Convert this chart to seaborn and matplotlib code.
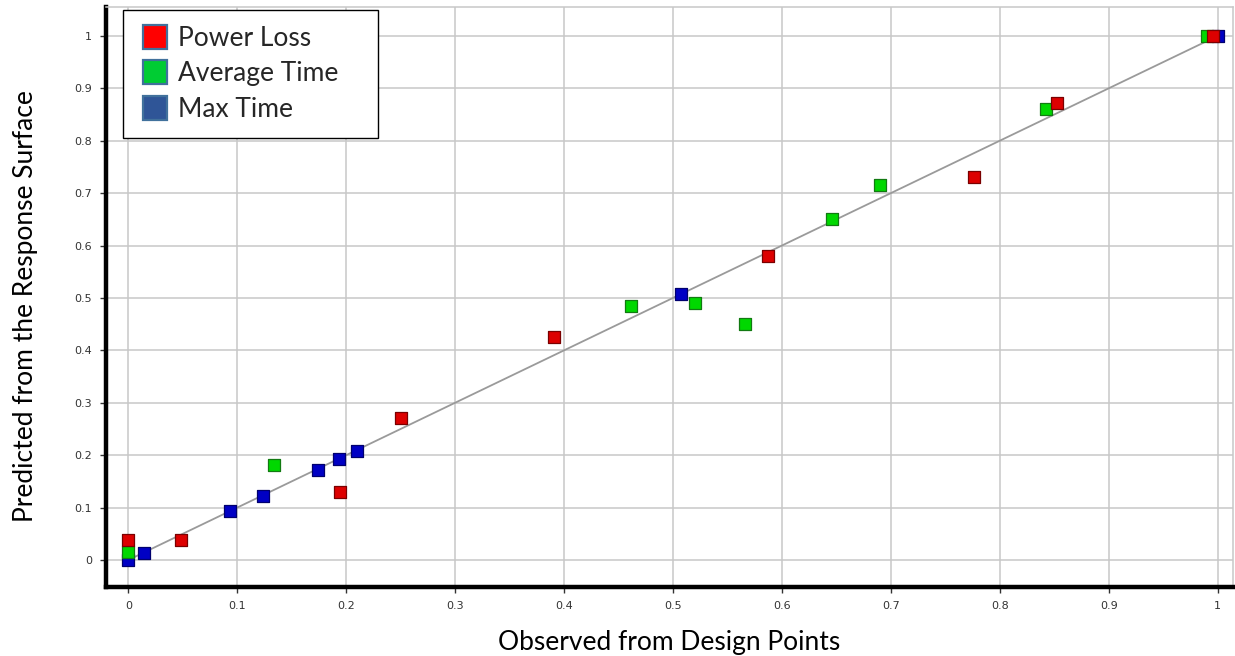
import matplotlib
matplotlib.use("Agg")
import matplotlib.pyplot as plt
from matplotlib.lines import Line2D
import numpy as np
import pandas as pd
import seaborn as sns

# Normalised observed vs. predicted values for each response
power_loss_obs = [0.0, 0.048, 0.194, 0.250, 0.391, 0.587, 0.776, 0.852, 0.996]
power_loss_pred = [0.039, 0.038, 0.130, 0.270, 0.426, 0.580, 0.731, 0.871, 1.0]

avg_time_obs = [0.0, 0.1335, 0.461, 0.520, 0.566, 0.6455, 0.690, 0.842, 0.990]
avg_time_pred = [0.016, 0.181, 0.485, 0.490, 0.450, 0.650, 0.716, 0.860, 1.0]

max_time_obs = [0.0, 0.0147, 0.093, 0.124, 0.174, 0.193, 0.2096, 0.507, 1.0]
max_time_pred = [0.0, 0.014, 0.0935, 0.122, 0.172, 0.192, 0.2086, 0.507, 1.0]

series_names = ["Max Time", "Average Time", "Power Loss"]
legend_order = ["Power Loss", "Average Time", "Max Time"]
ticks = [0, 0.1, 0.2, 0.3, 0.4, 0.5, 0.6, 0.7, 0.8, 0.9, 1]
tick_labels = ["0", "0.1", "0.2", "0.3", "0.4", "0.5", "0.6", "0.7", "0.8", "0.9", "1"]

df = pd.concat([
    pd.DataFrame({"observed": max_time_obs, "predicted": max_time_pred, "response": "Max Time"}),
    pd.DataFrame({"observed": avg_time_obs, "predicted": avg_time_pred, "response": "Average Time"}),
    pd.DataFrame({"observed": power_loss_obs, "predicted": power_loss_pred, "response": "Power Loss"}),
], ignore_index=True)

face = {"Power Loss": "#dd0000", "Average Time": "#00d800", "Max Time": "#0000c4"}
edge = {"Power Loss": "#7a0000", "Average Time": "#127a12", "Max Time": "#00006e"}

sns.set_theme(style="white")
plt.rcParams["font.family"] = ["DejaVu Sans"]

fig = plt.figure(figsize=(12.35, 6.56), dpi=100)
ax = fig.add_axes([0.0858, 0.1052, 0.9126, 0.8841])

grid_col = "#c8c8c8"
ax.set_xlim(-0.0205, 1.014)
ax.set_ylim(-0.0515, 1.055)
ax.set_xticks(ticks)
ax.set_xticklabels(tick_labels)
ax.set_yticks(ticks)
ax.set_yticklabels(tick_labels)
ax.grid(True, color=grid_col, linewidth=1.1)
ax.set_axisbelow(True)

# identity reference line
ax.plot([0, 1], [0, 1], color="#9a9a9a", linewidth=1.3, zorder=2)

for name in series_names:
    sub = df[df["response"] == name]
    sns.scatterplot(data=sub, x="observed", y="predicted", ax=ax, marker="s",
                    s=78, color=face[name], edgecolor=edge[name],
                    linewidth=0.9, zorder=3, legend=False)

for side in ["top", "right"]:
    ax.spines[side].set_color(grid_col)
    ax.spines[side].set_linewidth(1.1)
for side in ["left", "bottom"]:
    ax.spines[side].set_color("black")
    ax.spines[side].set_linewidth(3.2)

ax.tick_params(axis="both", which="major", length=4, width=1, color="#333333",
               labelsize=8, labelcolor="#333333", direction="out", pad=6,
               bottom=True, left=True)

label_font = ["Lato", "DejaVu Sans"]
ax.set_xlabel("")
ax.set_ylabel("")
fig.text(0.5421, 0.0095, "Observed from Design Points", ha="center", va="baseline",
         fontsize=19, family=label_font, color="black")
fig.text(0.0205, 0.533, "Predicted from the Response Surface", ha="center", va="center",
         rotation=90, fontsize=19, family=label_font, color="black")

legend_face = {"Power Loss": "#ff0000", "Average Time": "#00cc33", "Max Time": "#2f5597"}
handles = [Line2D([0], [0], marker="s", linestyle="none", markersize=17.5,
                  markerfacecolor=legend_face[n], markeredgecolor="#41719c",
                  markeredgewidth=1.6, label=n)
           for n in legend_order]
leg = ax.legend(handles=handles, loc="upper left",
                bbox_to_anchor=(0.0151, 0.9948 - 0.219, 0.2263, 0.219), mode="expand",
                frameon=True, fancybox=False, framealpha=1, edgecolor="black",
                prop={"family": label_font, "size": 19},
                handletextpad=0.28, borderpad=0.6, labelspacing=0.40,
                handlelength=1.2, borderaxespad=0)
leg.get_frame().set_linewidth(1.0)

fig.savefig("out.png", dpi=100)
